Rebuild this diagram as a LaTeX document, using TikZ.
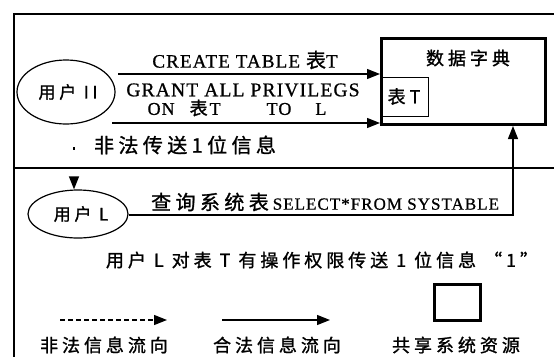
\documentclass[tikz,border=0pt]{standalone}
\usepackage{fontspec}
\setmainfont{Liberation Serif}
\newfontfamily\cjk[LetterSpace=22,FakeBold=1.2]{Noto Sans CJK SC}
\newfontfamily\ent[LetterSpace=6,FakeBold=0.8]{Liberation Serif}
\usetikzlibrary{shapes.geometric,arrows.meta}
\begin{document}
\begin{tikzpicture}[x=1pt,y=-1pt,
  frame/.style={line width=1.4pt},
  conn/.style={line width=1.3pt},
  tip/.style={-{Triangle[length=13pt,width=10pt]}},
  user/.style={ellipse,draw,line width=1.2pt,inner sep=0pt,font=\cjk\fontsize{17}{19}\selectfont},
  cn/.style={font=\cjk\fontsize{18}{20}\selectfont,inner sep=0pt},
  cnl/.style={font=\cjk\fontsize{20}{22}\selectfont,inner sep=0pt},
  en/.style={font=\ent\fontsize{19}{21}\selectfont,inner sep=0pt},
  thickbox/.style={draw,line width=3pt,inner sep=0pt},
]
\useasboundingbox (0,0) rectangle (554,357);
% frame
\draw[frame] (554,14) -- (14,14) -- (14,357);
\draw[frame] (14,168) -- (554,168);
% users
\node[user,minimum width=98pt,minimum height=64pt] (u2) at (66,92) {\hspace{4pt}用户 II};
\node[user,minimum width=100pt,minimum height=48pt] (uL) at (78,214) {\hspace{6pt}用户 L};
% data dictionary
\node[thickbox,minimum width=164pt,minimum height=86pt] (dict) at (463.5,81.5) {};
\node[cn] (dictt) at (468,58) {数据字典};
\node[draw,line width=1pt,minimum width=48pt,minimum height=39pt,inner sep=0pt,font=\cjk\fontsize{18}{20}\selectfont] (tbl) at (404,96.5) {表T};
% arrows to dictionary
\coordinate (a1s) at (118,74);
\coordinate (a2s) at (112,123);
\draw[conn,tip] (a1s) -- (a1s -| dict.west);
\draw[conn,tip] (a2s) -- (a2s -| dict.west);
\node[en] (t1) at (245,60) {CREATE TABLE\hspace{6pt}{\cjk\fontsize{20}{22}\selectfont 表}T};
\node[en,font=\ent\fontsize{19.5}{21}\selectfont] (t2) at (243,90) {GRANT ALL PRIVILEGS};
\node[en,font=\ent\fontsize{18}{20}\selectfont] (t3) at (237,108) {ON\hspace{15pt}{\cjk 表}\hspace{2pt}T\hspace{46pt}TO\hspace{24pt}L};
% illegal transfer
\node[cnl] (ill) at (185,145) {非法传送1位信息};
\coordinate (d1) at (74,126);
\draw[conn,tip,dash pattern=on 0pt off 21pt on 2.5pt off 100pt] (d1) -- (d1 |- uL.north);
% query
\coordinate (q) at (513,215);
\draw[conn,tip] (uL.east |- q) -- (q) -- (q |- dict.south);
\node[font=\ent\fontsize{17}{20}\selectfont,inner sep=0pt,anchor=west] (qt) at (151,202) {{\cjk\fontsize{20}{22}\selectfont 查询系统表}\hspace{4pt}SELECT*FROM SYSTABLE};
\node[cn] (perm) at (322,260) {用户 L 对表 T 有操作权限传送 1 位信息 “1”};
% legend
\coordinate (l1a) at (60,320);
\coordinate (l1b) at (167,320);
\coordinate (l2a) at (222,320);
\coordinate (l2b) at (330,320);
\draw[conn,tip,dash pattern=on 5pt off 3pt] (l1a) -- (l1b);
\draw[conn,tip] (l2a) -- (l2b);
\node[thickbox,minimum width=46pt,minimum height=36pt] (sq) at (457.5,302.5) {};
\node[cn] (lg1) at (104,345) {非法信息流向};
\node[cn] (lg2) at (277,345) {合法信息流向};
\node[cn] (lg3) at (456,345) {共享系统资源};
\end{tikzpicture}
\end{document}
